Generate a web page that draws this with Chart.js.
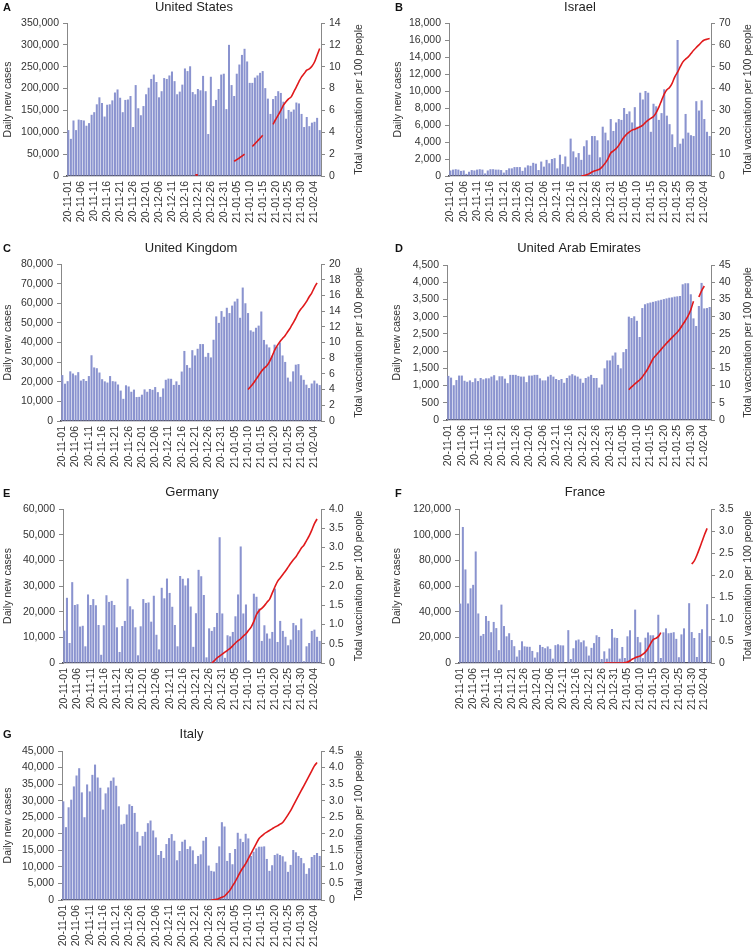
<!DOCTYPE html>
<html>
<head>
<meta charset="utf-8">
<script src="https://cdn.jsdelivr.net/npm/chart.js@4.4.1/dist/chart.umd.min.js"></script>
<style>
  body { margin: 0; background: #fff; width: 755px; height: 948px; position: relative; overflow: hidden; }
  .tag { position: absolute; font: bold 11px Arial, "Liberation Sans", sans-serif; color: #111; line-height: 12px; }
</style>
</head>
<body>
<script>
/* ---------- data ---------- */
var N = null;

var days = [
  '20-11-01','20-11-02','20-11-03','20-11-04','20-11-05','20-11-06','20-11-07','20-11-08','20-11-09','20-11-10',
  '20-11-11','20-11-12','20-11-13','20-11-14','20-11-15','20-11-16','20-11-17','20-11-18','20-11-19','20-11-20',
  '20-11-21','20-11-22','20-11-23','20-11-24','20-11-25','20-11-26','20-11-27','20-11-28','20-11-29','20-11-30',
  '20-12-01','20-12-02','20-12-03','20-12-04','20-12-05','20-12-06','20-12-07','20-12-08','20-12-09','20-12-10',
  '20-12-11','20-12-12','20-12-13','20-12-14','20-12-15','20-12-16','20-12-17','20-12-18','20-12-19','20-12-20',
  '20-12-21','20-12-22','20-12-23','20-12-24','20-12-25','20-12-26','20-12-27','20-12-28','20-12-29','20-12-30',
  '20-12-31','21-01-01','21-01-02','21-01-03','21-01-04','21-01-05','21-01-06','21-01-07','21-01-08','21-01-09',
  '21-01-10','21-01-11','21-01-12','21-01-13','21-01-14','21-01-15','21-01-16','21-01-17','21-01-18','21-01-19',
  '21-01-20','21-01-21','21-01-22','21-01-23','21-01-24','21-01-25','21-01-26','21-01-27','21-01-28','21-01-29',
  '21-01-30','21-01-31','21-02-01','21-02-02','21-02-03','21-02-04','21-02-05','21-02-06'
];

var usCases = [
  105000,85000,127000,105000,129000,128000,127000,115000,121000,140000,
  146000,164000,180000,167000,136000,163000,164000,173000,191000,198000,
  179000,146000,174000,175000,183000,112000,208000,155000,139000,160000,
  187000,202000,222000,232000,215000,180000,194000,224000,222000,230000,
  239000,217000,187000,193000,209000,246000,240000,251000,192000,187000,
  199000,196000,229000,194000,96000,227000,160000,174000,199000,232000,
  234000,153000,300000,208000,183000,234000,255000,277000,291000,262000,
  213000,213000,225000,230000,236000,240000,201000,177000,142000,176000,
  183000,194000,190000,170000,131000,151000,147000,152000,168000,166000,
  142000,112000,135000,114000,122000,124000,133000,105000
];
var usVacc = [
  N,N,N,N,N,N,N,N,N,N,
  N,N,N,N,N,N,N,N,N,N,
  N,N,N,N,N,N,N,N,N,N,
  N,N,N,N,N,N,N,N,N,N,
  N,N,N,N,N,N,N,N,N,0.1,
  0.1,N,N,N,N,N,N,N,N,N,
  N,N,N,N,1.34,1.5,1.65,1.82,2.0,N,
  N,2.7,2.95,3.2,3.45,3.72,N,N,N,4.72,
  5.17,5.57,6.0,6.48,6.79,7.06,7.24,7.7,8.16,8.64,
  9.07,9.37,9.68,9.8,10.04,10.43,11.05,11.66
];

var ilCases = [
  650,750,800,750,600,650,250,500,700,650,
  750,800,750,300,650,800,800,750,750,700,
  400,700,900,900,1050,1050,1050,600,1000,1250,
  1200,1550,1450,700,1700,1100,1900,1500,2000,2100,
  900,2500,1400,2300,1100,4400,2900,2200,2700,1900,
  3500,4200,2500,4700,4700,4200,2200,5800,5100,4200,
  6700,5300,6300,6700,6600,8000,7300,7600,6300,8100,
  5800,9800,9000,10000,9800,5200,8500,8200,6600,7400,
  10200,7100,6100,4900,3400,16000,3800,4400,7300,5100,
  4800,4700,8800,7700,8900,6700,5200,4700
];
var ilVacc = [
  N,N,N,N,N,N,N,N,N,N,
  N,N,N,N,N,N,N,N,N,N,
  N,N,N,N,N,N,N,N,N,N,
  N,N,N,N,N,N,N,N,N,N,
  N,N,N,N,N,N,N,N,N,0,
  0.2,0.6,1.1,1.8,2.4,2.7,3.3,4.5,6,8,
  10.5,11.5,12.5,14,16,17.8,19.2,20.2,21,21.4,
  22,22.5,23.3,24.5,25.6,26.4,27.2,29,31.5,34.5,
  37.5,39.5,40.5,42.5,45.5,47.5,50,52.2,53.5,54.5,
  56,57.5,58.8,60,61.3,62.2,62.6,62.9
];

var ukCases = [
  23400,19000,20300,25300,24200,23300,24900,20600,21400,20400,
  22900,33500,27300,26900,24700,21300,20200,19600,22900,20300,
  20100,18600,15500,11300,18200,17600,14900,16000,12200,12300,
  13400,16100,14900,16300,15900,17300,14700,12300,16600,21000,
  21600,21500,18400,20200,18400,25200,35700,28500,27100,36100,
  33400,36800,39200,39200,32700,34700,32400,41400,53300,50000,
  56000,53100,57700,55000,58800,60900,62300,52600,68000,60000,
  55000,46200,45500,47500,48600,55800,41300,39000,37500,33300,
  38900,37900,40000,33400,30100,22100,20100,25300,28700,29000,
  23300,21000,18500,16800,19100,20600,19100,18300
];
var ukVacc = [
  N,N,N,N,N,N,N,N,N,N,
  N,N,N,N,N,N,N,N,N,N,
  N,N,N,N,N,N,N,N,N,N,
  N,N,N,N,N,N,N,N,N,N,
  N,N,N,N,N,N,N,N,N,N,
  N,N,N,N,N,N,N,N,N,N,
  N,N,N,N,N,N,N,N,N,N,
  4.0,4.4,4.8,5.3,5.8,6.3,6.7,7.0,7.5,8.2,
  9.0,9.6,10.1,10.5,10.9,11.4,11.9,12.5,13.1,13.8,
  14.3,14.7,15.2,15.8,16.3,17.0,17.6,N
];

var aeCases = [
  1280,1230,1010,1160,1290,1290,1140,1110,1150,1100,
  1210,1130,1220,1180,1210,1210,1260,1300,1150,1270,
  1270,1200,1070,1310,1310,1310,1280,1260,1260,1100,
  1290,1290,1310,1310,1210,1150,1150,1260,1310,1260,
  1190,1160,1190,1080,1220,1290,1330,1290,1260,1200,
  1080,1220,1260,1310,1220,1220,940,1030,1500,1730,
  1730,1870,1960,1600,1500,1970,2060,3000,2960,3010,
  2880,2410,3250,3360,3390,3410,3430,3450,3470,3490,
  3510,3530,3550,3560,3580,3590,3600,3940,3970,3970,
  3650,2950,2730,3310,3980,3240,3250,3280
];
var aeVacc = [
  N,N,N,N,N,N,N,N,N,N,
  N,N,N,N,N,N,N,N,N,N,
  N,N,N,N,N,N,N,N,N,N,
  N,N,N,N,N,N,N,N,N,N,
  N,N,N,N,N,N,N,N,N,N,
  N,N,N,N,N,N,N,N,N,N,
  N,N,N,N,N,N,N,8.8,9.6,10.3,
  11.0,11.6,12.5,13.6,14.8,16.3,17.8,18.7,19.6,20.5,
  21.4,22.3,23.1,23.9,24.7,25.5,26.5,27.7,28.9,30.2,
  32.0,34.5,N,35.7,37.5,38.9,N,N
];

var deCases = [
  12600,25400,7800,31500,22600,22900,14200,14500,6500,26700,
  22600,24900,22500,14800,3200,14700,26400,23800,24200,22600,
  13900,4300,14400,16400,32800,22100,20900,13900,3000,14300,
  24900,23400,23600,16100,26200,11000,5300,29300,25200,32900,
  27300,21900,14800,6500,33900,32800,30200,33000,22000,6300,
  19400,36300,33800,26500,2200,13500,12500,14000,19500,49000,
  19300,2000,10800,10400,12100,18200,26700,45400,19300,22800,
  1000,0,27000,25800,21200,8600,14700,11500,9500,12100,
  29000,8200,16400,12500,10200,6900,9100,15600,14700,12800,
  17300,700,6500,7800,12500,13000,10200,8600
];
var deVacc = [
  N,N,N,N,N,N,N,N,N,N,
  N,N,N,N,N,N,N,N,N,N,
  N,N,N,N,N,N,N,N,N,N,
  N,N,N,N,N,N,N,N,N,N,
  N,N,N,N,N,N,N,N,N,N,
  N,N,N,N,N,N,0,0.06,0.13,0.18,
  0.23,0.28,0.33,0.38,0.45,0.52,0.58,0.63,0.7,0.76,
  0.85,0.94,1.08,1.26,1.36,1.42,1.49,1.58,1.66,1.82,
  1.98,2.12,2.21,2.3,2.39,2.49,2.59,2.68,2.76,2.87,
  2.98,3.06,3.18,3.3,3.45,3.62,3.74,N
];

var frCases = [
  46300,106000,72900,46400,58200,60900,86900,38600,21200,22600,
  36600,32800,24000,32000,27200,10000,45500,28800,20800,23200,
  17900,13100,5000,10000,16900,13000,12700,12600,9400,4200,
  8400,14100,12500,11500,12900,11000,3400,13900,14600,13800,
  13700,0,25600,3100,11500,17600,18300,16200,17600,12900,
  5800,11800,15500,21600,20300,3100,9100,3400,11300,26500,
  19800,19500,3400,12500,3900,20800,25500,0,41600,20300,
  16100,3800,19700,23800,21600,21600,0,37600,3900,23900,
  27000,23200,23500,24000,18800,4500,22300,27000,0,46600,
  24100,19500,4700,23400,26300,0,45800,20900
];
var frVacc = [
  N,N,N,N,N,N,N,N,N,N,
  N,N,N,N,N,N,N,N,N,N,
  N,N,N,N,N,N,N,N,N,N,
  N,N,N,N,N,N,N,N,N,N,
  N,N,N,N,N,N,N,N,N,N,
  N,N,N,N,N,N,0,0,0,0,
  0,0,0,0,0.01,0.02,0.05,0.09,0.12,0.14,
  0.16,0.2,0.25,0.33,0.44,0.53,0.56,0.6,0.69,N,
  N,N,N,N,N,N,N,N,N,N,
  2.25,2.32,2.45,2.6,2.76,2.92,3.06,N
];

var itCases = [
  29800,22000,28000,30300,34300,37600,39800,32500,25000,34900,
  32800,37800,40900,37000,33900,27300,32200,34000,36000,37000,
  34500,28300,22800,23000,25800,28900,28400,26300,20600,16400,
  19300,20600,23200,24000,21000,18900,13600,14800,12700,16900,
  18700,19900,17900,12000,14800,17600,18200,15400,16200,15000,
  10900,13300,13800,17900,19000,10400,8800,8600,11200,16200,
  23500,22200,11800,14200,10800,15400,20300,18500,17500,20000,
  18600,13300,14600,15600,16100,16100,16200,12400,8800,10500,
  13600,14000,13600,13200,11600,8500,10600,15100,14400,13300,
  12700,11100,7900,9600,13000,13600,14200,13300
];
var itVacc = [
  N,N,N,N,N,N,N,N,N,N,
  N,N,N,N,N,N,N,N,N,N,
  N,N,N,N,N,N,N,N,N,N,
  N,N,N,N,N,N,N,N,N,N,
  N,N,N,N,N,N,N,N,N,N,
  N,N,N,N,N,N,0,0.01,0.02,0.05,
  0.08,0.12,0.2,0.29,0.42,0.55,0.7,0.85,0.98,1.1,
  1.25,1.4,1.55,1.7,1.85,1.93,2.0,2.05,2.1,2.15,
  2.2,2.24,2.29,2.34,2.45,2.57,2.7,2.85,3.0,3.15,
  3.3,3.45,3.6,3.75,3.9,4.05,4.15,N
];

/* ---------- panels (axes ranges + placement) ---------- */
// xBand = height kept under the plot for the rotated date labels
var panels = [
  { tag: 'A', name: 'United States', cases: usCases, vacc: usVacc, yMax: 350000, yStep: 50000, vMax: 14, vStep: 2,
    left: 0, top: 0, w: 375, h: 236, xBand: 60, padTop: 23, axL: 67, axR: 54, ltPad: 2, rtX: 359, titleY: 7, tagX: 3, tagY: 1 },
  { tag: 'B', name: 'Israel', cases: ilCases, vacc: ilVacc, yMax: 18000, yStep: 2000, vMax: 70, vStep: 10,
    left: 378, top: 0, w: 377, h: 236, xBand: 60, padTop: 23, axL: 71, axR: 44, ltPad: 14, rtX: 370, titleY: 7, tagX: 395, tagY: 1 },
  { tag: 'C', name: 'United Kingdom', cases: ukCases, vacc: ukVacc, yMax: 80000, yStep: 10000, vMax: 20, vStep: 2,
    left: 0, top: 242, w: 375, h: 239, xBand: 60, padTop: 22, axL: 61, axR: 54, ltPad: 2, rtX: 359, titleY: 6, tagX: 3, tagY: 242 },
  { tag: 'D', name: 'United Arab Emirates', cases: aeCases, vacc: aeVacc, yMax: 4500, yStep: 500, vMax: 45, vStep: 5,
    left: 378, top: 242, w: 377, h: 238, xBand: 60, padTop: 23, axL: 69, axR: 44, ltPad: 13, rtX: 370, titleY: 6, tagX: 395, tagY: 242 },
  { tag: 'E', name: 'Germany', cases: deCases, vacc: deVacc, yMax: 60000, yStep: 10000, vMax: 4, vStep: 0.5, dec: true,
    left: 0, top: 484, w: 375, h: 239, xBand: 60, padTop: 25, axL: 63, axR: 54, ltPad: 2, rtX: 359, titleY: 8, tagX: 3, tagY: 487 },
  { tag: 'F', name: 'France', cases: frCases, vacc: frVacc, yMax: 120000, yStep: 20000, vMax: 3.5, vStep: 0.5, dec: true,
    left: 378, top: 484, w: 377, h: 239, xBand: 60, padTop: 25, axL: 81, axR: 44, ltPad: 13, rtX: 370, titleY: 8, tagX: 395, tagY: 487 },
  { tag: 'G', name: 'Italy', cases: itCases, vacc: itVacc, yMax: 45000, yStep: 5000, vMax: 4.5, vStep: 0.5, dec: true,
    left: 0, top: 727, w: 375, h: 221, xBand: 48, padTop: 24, axL: 62, axR: 54, ltPad: 2, rtX: 359, titleY: 7, tagX: 3, tagY: 728 }
];

var FONT = 'Arial, "Liberation Sans", sans-serif';
Chart.defaults.font.family = FONT;
Chart.defaults.color = '#333';

// chart title over the plot area + right axis title reading bottom-to-top
var panelText = {
  id: 'panelText',
  afterDraw: function (chart, args, o) {
    var ctx = chart.ctx, a = chart.chartArea;
    ctx.save();
    ctx.textAlign = 'center';
    ctx.textBaseline = 'middle';
    ctx.fillStyle = '#222';
    ctx.font = '13px ' + FONT;
    ctx.fillText(o.title, (a.left + a.right) / 2, o.titleY);
    ctx.fillStyle = '#333';
    ctx.font = '10.5px ' + FONT;
    ctx.translate(o.rightX, (a.top + a.bottom) / 2);
    ctx.rotate(-Math.PI / 2);
    ctx.fillText('Total vaccination per 100 people', 0, 0);
    ctx.restore();
  }
};

function makePanel(p) {
  var cv = document.createElement('canvas');
  cv.width = p.w; cv.height = p.h;
  cv.style.cssText = 'position:absolute;left:' + p.left + 'px;top:' + p.top + 'px;width:' + p.w + 'px;height:' + p.h + 'px';
  document.body.appendChild(cv);

  var t = document.createElement('div');
  t.className = 'tag';
  t.textContent = p.tag;
  t.style.left = p.tagX + 'px';
  t.style.top = p.tagY + 'px';
  document.body.appendChild(t);

  new Chart(cv, {
    data: {
      labels: days,
      datasets: [
        { type: 'line', data: p.vacc, yAxisID: 'y1', order: 1,
          borderColor: '#e0191b', borderWidth: 1.6, pointRadius: 0, spanGaps: false,
          cubicInterpolationMode: 'monotone' },
        { type: 'bar', data: p.cases, yAxisID: 'y', order: 2,
          backgroundColor: '#8a93cf', borderWidth: 0, barPercentage: 0.78, categoryPercentage: 1 }
      ]
    },
    options: {
      responsive: false, animation: false, devicePixelRatio: 1,
      layout: { padding: { top: p.padTop, left: 0, right: 0, bottom: 0 } },
      plugins: {
        legend: { display: false }, tooltip: { enabled: false },
        panelText: { title: p.name, titleY: p.titleY, rightX: p.rtX }
      },
      scales: {
        x: {
          type: 'category', offset: true,
          grid: { display: false, drawTicks: false, tickLength: 0 },
          border: { display: true, color: '#4a4a5a', width: 1.2 },
          ticks: {
            autoSkip: false, minRotation: 90, maxRotation: 90, padding: 5,
            font: { size: 10.5 }, color: '#333',
            callback: function (v, i) { return i % 5 === 0 ? this.getLabelForValue(v) : ''; }
          },
          afterFit: function (s) { s.height = p.xBand; }
        },
        y: {
          position: 'left', min: 0, max: p.yMax,
          ticks: { stepSize: p.yStep, padding: 4, font: { size: 10.5 }, color: '#333',
                   callback: function (v) { return v.toLocaleString('en-US'); } },
          grid: { drawOnChartArea: false, drawTicks: true, tickLength: 4, color: '#888' },
          border: { display: true, color: '#888' },
          title: { display: true, text: 'Daily new cases', font: { size: 10.5 }, color: '#333',
                   padding: { top: p.ltPad, bottom: 0 } },
          afterFit: function (s) { s.width = p.axL; }
        },
        y1: {
          position: 'right', min: 0, max: p.vMax,
          ticks: { stepSize: p.vStep, padding: 4, font: { size: 10.5 }, color: '#333',
                   callback: function (v) { return v === 0 ? '0' : (p.dec ? v.toFixed(1) : String(v)); } },
          grid: { drawOnChartArea: false, drawTicks: true, tickLength: 4, color: '#888' },
          border: { display: true, color: '#888' },
          afterFit: function (s) { s.width = p.axR; }
        }
      }
    },
    plugins: [panelText]
  });
}

panels.forEach(makePanel);
</script>
</body>
</html>
